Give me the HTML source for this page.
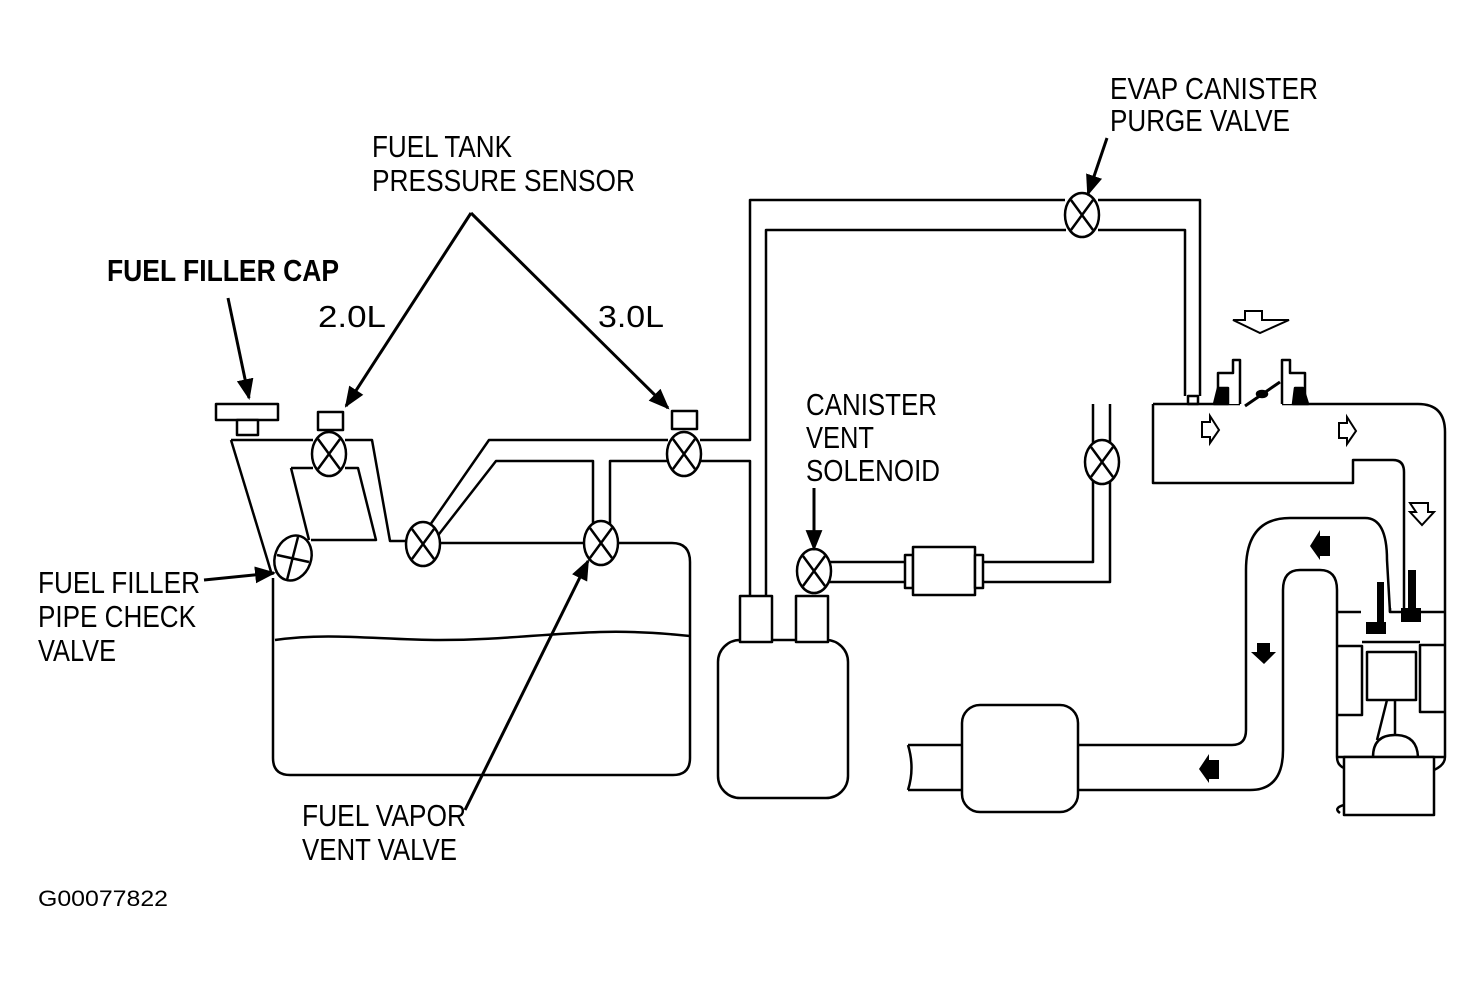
<!DOCTYPE html>
<html><head><meta charset="utf-8"><style>
html,body{margin:0;padding:0;background:#fff;}
svg{display:block;}
text{font-family:"Liberation Sans",sans-serif;font-size:31px;fill:#000;}
</style></head><body>
<svg width="1484" height="982" viewBox="0 0 1484 982" xmlns="http://www.w3.org/2000/svg">
<defs>
<marker id="ah" viewBox="0 0 10 10" refX="9" refY="5" markerWidth="7" markerHeight="7" orient="auto-start-reverse"><path d="M0,1 L10,5 L0,9 z" fill="#000"/></marker>
<g id="v"><ellipse cx="0" cy="0" rx="17" ry="22" fill="#fff" stroke="#000" stroke-width="2.5"/><path d="M-11,-15 L11,15 M11,-15 L-11,15" stroke="#000" stroke-width="2.5"/></g>
</defs>
<g fill="none" stroke="#000" stroke-width="2.5" stroke-linejoin="round">
<!-- tank -->
<path d="M273,578 L273,758 Q273,775 290,775 L673,775 Q690,775 690,758 L690,562 Q690,543 672,543 L616,543"/>
<path d="M440,543 L584,543"/>
<path d="M275,640 C330,632 380,640 440,640 C500,640 540,634 600,632 C640,631 670,634 690,636"/>
<!-- filler pipe -->
<path d="M231,440 L272,575"/>
<path d="M231,440 L313,440 M345,440 L372,440 L390,541 L408,541"/>
<path d="M291,468 L313,468 M345,468 L358,468 L376,540 L311,540"/>
<path d="M291,468 L309,540"/>
<!-- cap -->
<rect x="216" y="404" width="62" height="16" fill="#fff"/>
<rect x="237" y="420" width="21" height="15" fill="#fff"/>
<!-- sensors -->
<rect x="318" y="412" width="25" height="18" fill="#fff"/>
<rect x="672" y="411" width="25" height="18" fill="#fff"/>
<!-- pipes from vent valve -->
<path d="M430,525 L489,440 L668,440"/>
<path d="M436,538 L496,461 L593,461 L593,524"/>
<path d="M610,524 L610,461 L668,461"/>
<!-- to canister / purge -->
<path d="M700,440 L750,440 L750,200 L1065,200"/>
<path d="M700,461 L750,461 L750,596"/>
<path d="M766,596 L766,230 L1066,230"/>
<path d="M1098,200 L1200,200 L1200,396"/>
<path d="M1098,230 L1185,230 L1185,396"/>
<rect x="1188" y="396" width="10" height="8" fill="#fff"/>
<!-- canister -->
<rect x="718" y="640" width="130" height="158" rx="22" fill="#fff"/>
<rect x="740" y="596" width="32" height="46" fill="#fff"/>
<rect x="796" y="596" width="32" height="46" fill="#fff"/>
<!-- vent line -->
<path d="M828,562 L905,562 M828,582 L905,582"/>
<rect x="905" y="555" width="8" height="33" fill="#fff"/>
<rect x="913" y="547" width="62" height="48" fill="#fff"/>
<rect x="975" y="555" width="8" height="33" fill="#fff"/>
<path d="M983,562 L1093,562 L1093,480 M983,582 L1110,582 L1110,480"/>
<path d="M1093,444 L1093,404 M1110,444 L1110,404"/>
<!-- intake -->
<path d="M1153,404 L1240,404 M1282,404 L1418,404 Q1445,404 1445,432 L1445,757"/>
<path d="M1153,404 L1153,483 L1353,483 L1353,460 L1393,460 Q1404,460 1404,472 L1404,608"/>
<!-- throttle -->
<path d="M1218,404 L1218,373 L1233,373 L1233,360 L1240,360 L1240,404" fill="#fff"/>
<path d="M1282,404 L1282,360 L1290,360 L1290,373 L1305,373 L1305,404" fill="#fff"/>
<path d="M1214,404 L1218,388 L1228,388 L1228,404 z" fill="#000"/>
<path d="M1293,404 L1295,388 L1303,388 L1308,404 z" fill="#000"/>
<path d="M1245,406 L1280,382" stroke-width="3"/>
<ellipse cx="1262" cy="394" rx="5" ry="3" fill="#000"/>
<!-- engine -->
<path d="M1337,612 L1337,757 M1337,612 L1361,612 M1390,608 L1390,612 L1404,612 L1445,612 M1337,646 L1362,646 L1362,715 L1337,715 M1445,645 L1420,645 L1420,712 L1445,712 M1362,642 L1420,642"/>
<rect x="1367" y="652" width="49" height="48" fill="#fff"/>
<path d="M1395,700 L1395,735 M1387,700 L1377,740"/>
<path d="M1373,757 Q1373,735 1395,735 Q1417,735 1418,757"/>
<path d="M1337,757 L1445,757"/>
<rect x="1344" y="757" width="90" height="58" fill="#fff"/>
<path d="M1337,757 Q1337,765 1344,768 M1445,757 Q1445,765 1434,770 M1344,805 Q1333,808 1340,813"/>
<!-- exhaust -->
<path d="M908,745 L1232,745 Q1246,745 1246,730 L1246,570 Q1246,518 1290,518 L1365,518 Q1387,518 1387,560 L1390,612"/>
<path d="M908,790 L1250,790 Q1283,790 1283,750 L1283,590 Q1283,570 1300,570 L1320,570 Q1337,570 1337,590 L1337,612"/>
<path d="M908,745 Q915,768 908,790"/>
<rect x="962" y="705" width="116" height="107" rx="18" fill="#fff"/>
</g>
<rect x="1377" y="582" width="7" height="42" fill="#000"/>
<rect x="1366" y="622" width="20" height="12" fill="#000"/>
<rect x="1408" y="570" width="8" height="48" fill="#000"/>
<rect x="1401" y="608" width="20" height="14" fill="#000"/>
<g stroke="#000" stroke-width="2" fill="#fff">
<path d="M1245,311 L1262,311 L1262,320 L1289,320 L1260,333 L1233,320 L1245,320 z"/>
<path d="M1202,422 L1210,422 L1210,416 L1219,430 L1210,443 L1210,437 L1202,437 z"/>
<path d="M1339,423 L1347,423 L1347,417 L1356,431 L1347,444 L1347,438 L1339,438 z"/>
<path d="M1410,503 L1428,503 L1428,512 L1434,512 L1422,525 L1410,512 L1416,512 z"/>
</g>
<g fill="#000">
<path d="M1330,536 L1330,556 L1320,556 L1320,560 L1310,546 L1320,530 L1320,536 z"/>
<path d="M1257,643 L1270,643 L1270,652 L1276,652 L1264,664 L1251,652 L1257,652 z"/>
<path d="M1219,760 L1219,779 L1209,779 L1209,783 L1199,769 L1209,754 L1209,760 z"/>
</g>
<use href="#v" x="329" y="454"/>
<use href="#v" x="423" y="544"/>
<use href="#v" x="601" y="543"/>
<use href="#v" x="684" y="454"/>
<use href="#v" x="1082" y="215"/>
<use href="#v" x="814" y="571"/>
<use href="#v" x="1102" y="462"/>
<ellipse cx="293" cy="558" rx="18" ry="23" transform="rotate(20 293 558)" fill="#fff" stroke="#000" stroke-width="2.5"/>
<path d="M277,555 L309,562 M298,537 L287,580" stroke="#000" stroke-width="2.5"/>
<g stroke="#000" stroke-width="3" fill="none">
<path d="M471,213 L346,406" marker-end="url(#ah)"/>
<path d="M471,213 L668,408" marker-end="url(#ah)"/>
<path d="M228,298 L249,398" marker-end="url(#ah)"/>
<path d="M204,580 L274,573" marker-end="url(#ah)"/>
<path d="M465,810 L588,561" marker-end="url(#ah)"/>
<path d="M814,488 L814,549" marker-end="url(#ah)"/>
<path d="M1107,138 L1088,194" marker-end="url(#ah)"/>
</g>
<text x="372" y="157" textLength="140" lengthAdjust="spacingAndGlyphs">FUEL TANK</text>
<text x="372" y="191" textLength="263" lengthAdjust="spacingAndGlyphs">PRESSURE SENSOR</text>
<text x="107" y="281" textLength="232" lengthAdjust="spacingAndGlyphs" font-weight="bold">FUEL FILLER CAP</text>
<text x="318" y="327" textLength="68" lengthAdjust="spacingAndGlyphs">2.0L</text>
<text x="598" y="327" textLength="66" lengthAdjust="spacingAndGlyphs">3.0L</text>
<text x="1110" y="99" textLength="208" lengthAdjust="spacingAndGlyphs">EVAP CANISTER</text>
<text x="1110" y="131" textLength="180" lengthAdjust="spacingAndGlyphs">PURGE VALVE</text>
<text x="806" y="415" textLength="131" lengthAdjust="spacingAndGlyphs">CANISTER</text>
<text x="806" y="448" textLength="68" lengthAdjust="spacingAndGlyphs">VENT</text>
<text x="806" y="481" textLength="134" lengthAdjust="spacingAndGlyphs">SOLENOID</text>
<text x="38" y="593" textLength="162" lengthAdjust="spacingAndGlyphs">FUEL FILLER</text>
<text x="38" y="627" textLength="158" lengthAdjust="spacingAndGlyphs">PIPE CHECK</text>
<text x="38" y="661" textLength="78" lengthAdjust="spacingAndGlyphs">VALVE</text>
<text x="302" y="826" textLength="164" lengthAdjust="spacingAndGlyphs">FUEL VAPOR</text>
<text x="302" y="860" textLength="155" lengthAdjust="spacingAndGlyphs">VENT VALVE</text>
<text x="38" y="906" textLength="130" lengthAdjust="spacingAndGlyphs" style="font-size:22px">G00077822</text>
</svg>
</body></html>
